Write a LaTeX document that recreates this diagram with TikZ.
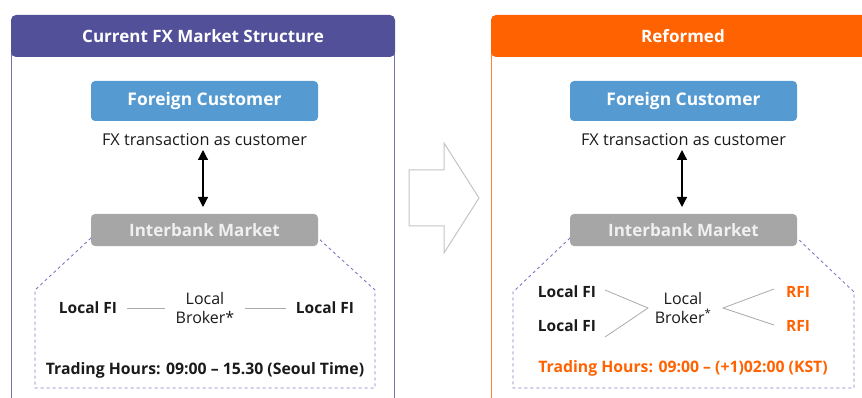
\documentclass[tikz,border=0pt]{standalone}
\usepackage{fontspec}
\setmainfont{Open Sans}
\usetikzlibrary{arrows.meta}
\definecolor{ingpurple}{HTML}{53509A}
\definecolor{ingorange}{HTML}{FF6200}
\definecolor{custblue}{HTML}{559BD2}
\definecolor{bankgray}{HTML}{A6A6A6}
\definecolor{dashpurple}{HTML}{7E76C4}
\definecolor{linkgray}{HTML}{ABABAB}
\definecolor{textdark}{HTML}{1A1A1A}
\definecolor{shiftgray}{HTML}{C4C4C4}
\tikzset{
  header/.style={rounded corners=5pt, minimum width=384, minimum height=42,
    text=white, font=\fontsize{17}{19}\selectfont\bfseries, inner sep=0pt},
  custbox/.style={rounded corners=4pt, fill=custblue, minimum width=227, minimum height=40,
    text=white, font=\fontsize{17.4}{19}\selectfont\bfseries, inner sep=0pt},
  bankbox/.style={rounded corners=4pt, fill=bankgray, minimum width=227, minimum height=32,
    text=white!94!black, font=\fontsize{17}{19}\selectfont\bfseries, inner sep=0pt},
  plainlabel/.style={text=textdark, font=\fontsize{16.3}{18}\selectfont, inner sep=0pt},
  firm/.style={text=textdark, font=\fontsize{15.5}{17}\selectfont\bfseries, inner sep=0pt},
  rfi/.style={text=ingorange, font=\fontsize{15.5}{17}\selectfont\bfseries, inner sep=0pt},
  broker/.style={text=textdark, font=\fontsize{16}{19}\selectfont, align=center, inner sep=0pt},
  hours/.style={font=\fontsize{15.8}{18}\selectfont\bfseries, inner sep=0pt},
  twoway/.style={{Triangle[length=10pt,width=10pt]}-{Triangle[length=10pt,width=10pt]}, line width=1.2pt, black},
  link/.style={draw=linkgray, line width=0.8pt},
  zone/.style={draw=dashpurple, dash pattern=on 3pt off 3pt, line width=0.9pt},
}
\begin{document}
\begin{tikzpicture}[x=1pt,y=-1pt]
\useasboundingbox (0,0) rectangle (862,398);
\clip (0,0) rectangle (862,398);

% ---------------- current structure ----------------
\draw[ingpurple!80, line width=0.9pt] (11,40) -- (11,410) (394,40) -- (394,410);
\node[header, fill=ingpurple] (hcur) at (203,36) {Current FX Market Structure};

\node[custbox] (fcA) at (204.5,101) {Foreign Customer};
\node[plainlabel] (txA) at (204.5,140) {FX transaction as customer};
\node[bankbox] (ibA) at (204.5,230) {Interbank Market};
\coordinate (upA) at (203,150);
\coordinate (dnA) at (203,207);
\draw[twoway] (upA) -- (dnA);

\draw[zone] (91,238) -- (35,290) -- (35,388) -- (375,388) -- (375,290) -- (318,238);

\node[firm] (lfA) at (88,308) {Local FI};
\node[broker] (brA) at (205,308) {Local\\Broker*};
\node[firm] (lfB) at (325,308) {Local FI};
\draw[link] ([xshift=10pt]lfA.east) -- ([xshift=-10pt]brA.west);
\draw[link] ([xshift=10pt]brA.east) -- ([xshift=-10pt]lfB.west);

\node[hours, text=textdark] (hrA) at (205,370) {Trading Hours: 09:00 – 15.30 (Seoul Time)};

% ---------------- transition arrow ----------------
\draw[shiftgray, line width=1pt, fill=white, line join=miter]
  (409,170) -- (444,170) -- (444,143) -- (479,198) -- (444,253) -- (444,226) -- (409,226) -- cycle;

% ---------------- reformed structure ----------------
\draw[ingorange!80, line width=0.9pt] (491,40) -- (491,410) (874,40) -- (874,410);
\node[header, fill=ingorange] (href) at (683,36) {Reformed};

\node[custbox] (fcB) at (683.5,101) {Foreign Customer};
\node[plainlabel] (txB) at (683.5,140) {FX transaction as customer};
\node[bankbox] (ibB) at (683.5,230) {Interbank Market};
\coordinate (upB) at (682,150);
\coordinate (dnB) at (682,207);
\draw[twoway] (upB) -- (dnB);

\draw[zone] (570,238) -- (513,292) -- (513,388) -- (854,388) -- (854,292) -- (797,238);

\node[firm] (lfC) at (567,292) {Local FI};
\node[firm] (lfD) at (567,326) {Local FI};
\node[broker] (brB) at (683,308) {Local\\Broker\textsuperscript{*}};
\node[rfi] (rfA) at (798,292) {RFI};
\node[rfi] (rfB) at (798,326) {RFI};
\coordinate (lfCend) at (605,290);
\coordinate (lfDend) at (605,337);
\coordinate (brBin) at (648,308);
\coordinate (brBout) at (723,308);
\coordinate (rfAend) at (774,289);
\coordinate (rfBend) at (774,325);
\draw[link] (lfCend) -- (brBin) -- (lfDend);
\draw[link] (rfAend) -- (brBout) -- (rfBend);

\node[hours, text=ingorange] (hrB) at (683,368) {Trading Hours: 09:00 – (+1)02:00 (KST)};
\end{tikzpicture}
\end{document}
